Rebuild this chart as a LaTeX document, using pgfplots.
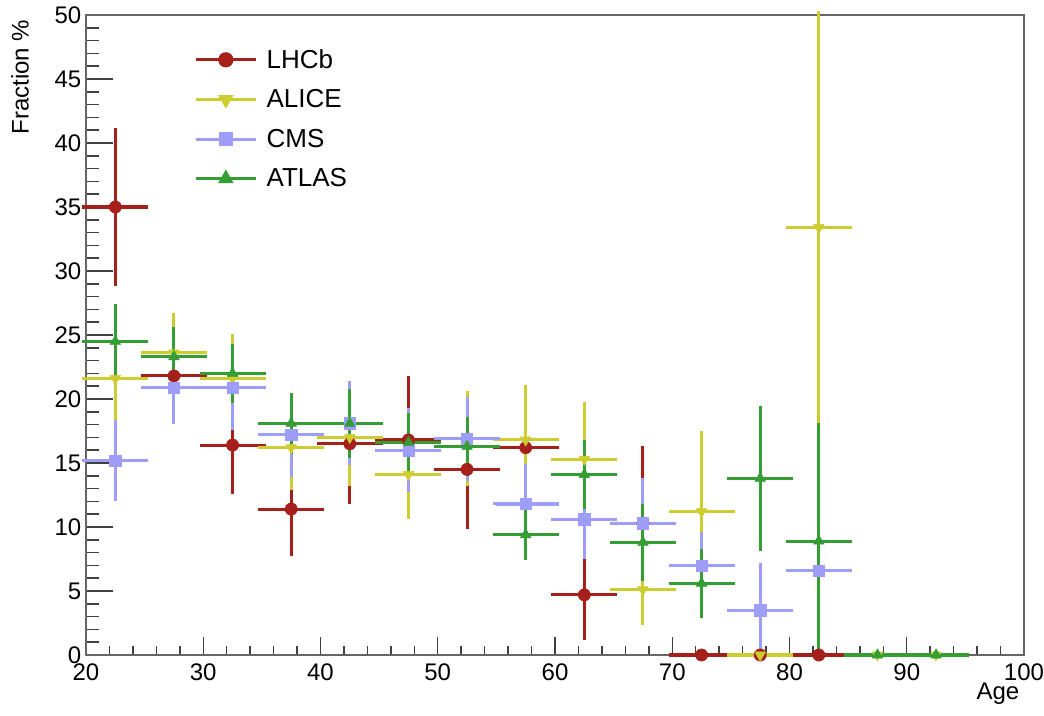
\documentclass[border=0pt]{standalone}
\usepackage{fontspec}
\setmainfont{Liberation Sans}
\usepackage{pgfplots}
\usepackage{pgfplotstable}
\pgfplotsset{compat=1.18}

\definecolor{lhcb}{RGB}{165,32,26}
\definecolor{alice}{RGB}{205,205,50}
\definecolor{cms}{RGB}{158,158,250}
\definecolor{atlas}{RGB}{52,158,52}

% x  y  ex  ey  (bins of width 5 in age)
\pgfplotstableread{
x y ex ey
22.5 35.0 2.5 5.9
27.5 21.8 2.5 3.0
32.5 16.4 2.5 3.5
37.5 11.4 2.5 3.4
42.5 16.5 2.5 4.4
47.5 16.8 2.5 4.7
52.5 14.5 2.5 4.4
57.5 16.2 2.5 4.6
62.5 4.7 2.5 3.2
67.5 10.3 2.5 5.7
72.5 0 2.5 0
77.5 0 2.5 0
82.5 0 2.5 0
}\lhcbdata

\pgfplotstableread{
x y ex ey
22.5 21.6 2.5 4.8
27.5 23.6 2.5 2.8
32.5 21.6 2.5 3.2
37.5 16.2 2.5 3.0
42.5 17.0 2.5 3.5
47.5 14.1 2.5 3.2
52.5 16.9 2.5 3.4
57.5 16.8 2.5 4.0
62.5 15.3 2.5 4.2
67.5 5.1 2.5 2.5
72.5 11.2 2.5 6.0
77.5 0 2.5 0
82.5 33.4 2.5 16.6
87.5 0 2.5 0
92.5 0 2.5 0
}\alicedata

\pgfplotstableread{
x y ex ey
22.5 15.2 2.5 2.9
27.5 20.9 2.5 2.6
32.5 20.9 2.5 3.0
37.5 17.2 2.5 3.0
42.5 18.1 2.5 3.0
47.5 16.0 2.5 3.0
52.5 16.9 2.5 3.0
57.5 11.8 2.5 2.8
62.5 10.6 2.5 2.8
67.5 10.3 2.5 3.2
72.5 7.0 2.5 2.3
77.5 3.5 2.5 3.4
82.5 6.6 2.5 6.6
}\cmsdata

\pgfplotstableread{
x y ex ey
22.5 24.5 2.5 2.6
27.5 23.3 2.5 2.0
32.5 22.0 2.5 2.0
37.5 18.1 2.5 2.1
42.5 18.1 2.5 2.4
47.5 16.6 2.5 2.0
52.5 16.3 2.5 2.0
57.5 9.4 2.5 1.7
62.5 14.1 2.5 2.4
67.5 8.8 2.5 2.7
72.5 5.6 2.5 2.4
77.5 13.8 2.5 5.4
82.5 8.9 2.5 8.9
87.5 0 2.5 0
92.5 0 2.5 0
}\atlasdata

\pgfplotsset{
  hist/.style={only marks, mark=#1, mark size=4.6pt, forget plot,
    error bars/.cd, x dir=both, x explicit, y dir=both, y explicit,
    error bar style={line width=2.3pt},
    error mark options={mark size=2.8pt, line width=2.3pt},
    /pgfplots/.cd},
}

\begin{document}
\begin{tikzpicture}
\useasboundingbox (0,0) rectangle (783pt,536.25pt);
\begin{axis}[
  at={(64.5pt,45pt)}, anchor=south west,
  width=703.5pt, height=480pt, scale only axis,
  xmin=20, xmax=100, ymin=0, ymax=50,
  clip=false,
  font=\fontsize{18}{21}\selectfont,
  /pgf/number format/assume math mode=true,
  axis line style={draw=black!60, line width=1.2pt},
  tick align=inside, xtick pos=left, ytick pos=left,
  xtick={20,30,...,100}, ytick={0,5,...,50},
  minor x tick num=4, minor y tick num=4,
  tick style={black!75, line width=1.1pt},
  major tick length=20pt, minor tick length=10pt,
  xtick style={/pgfplots/major tick length=13.5pt, /pgfplots/minor tick length=7pt},
  xticklabel style={yshift=-3pt},
  xlabel={Age},
  every axis x label/.style={at={(axis description cs:1,0)}, anchor=base east, yshift=-33.5pt},
  ylabel={Fraction \%},
  every axis y label/.style={at={(axis description cs:-0.0704,1)}, rotate=90, anchor=east},
  legend style={at={(0.111,0.955)}, anchor=north west, draw=none, fill=none,
    row sep=10.5pt, font=\fontsize{19.5}{21}\selectfont,
    /tikz/every odd column/.style={column sep=5pt}},
  legend cell align=left,
  legend image code/.code={\draw[mark repeat=2, mark phase=2, #1]
    plot coordinates {(0pt,0pt) (22.5pt,0pt) (45pt,0pt)};},
]
\addlegendimage{lhcb, line width=2.2pt, mark=*, mark size=4.6pt}
\addlegendentry{LHCb}
\addlegendimage{alice, line width=2.2pt, mark=triangle*, mark size=4.6pt, mark options={rotate=180}}
\addlegendentry{ALICE}
\addlegendimage{cms, line width=2.2pt, mark=square*, mark size=4.2pt}
\addlegendentry{CMS}
\addlegendimage{atlas, line width=2.2pt, mark=triangle*, mark size=4.6pt}
\addlegendentry{ATLAS}

\addplot[color=lhcb, hist=*] table[x=x, y=y, x error=ex, y error=ey] {\lhcbdata};
\addplot[color=alice, hist=triangle*, mark options={rotate=180}] table[x=x, y=y, x error=ex, y error=ey] {\alicedata};
\addplot[color=cms, hist=square*, mark size=4.2pt] table[x=x, y=y, x error=ex, y error=ey] {\cmsdata};
\addplot[color=atlas, hist=triangle*] table[x=x, y=y, x error=ex, y error=ey] {\atlasdata};
\end{axis}
\end{tikzpicture}
\end{document}
